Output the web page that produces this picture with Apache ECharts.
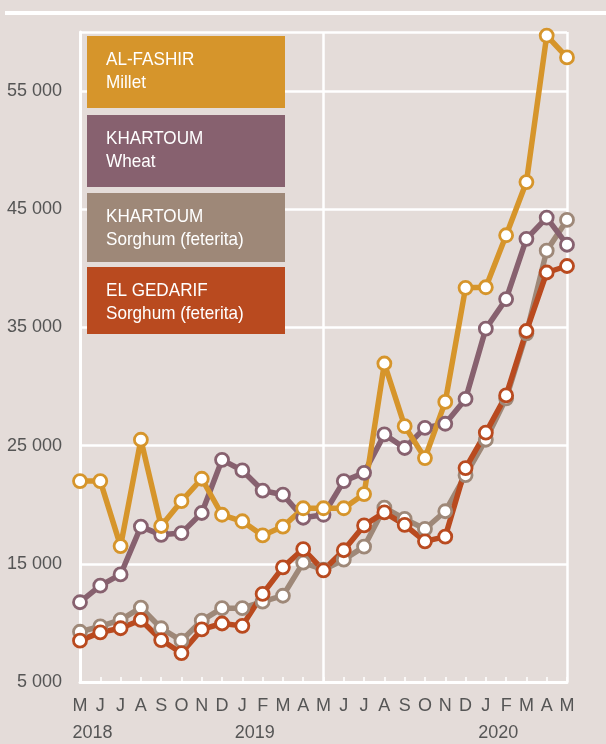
<!DOCTYPE html>
<html>
<head>
<meta charset="utf-8">
<script src="https://cdn.jsdelivr.net/npm/echarts@6/dist/echarts.min.js"></script>
<style>
  html, body { margin: 0; padding: 0; background: #e4dcd9; }
  #chart { width: 606px; height: 744px; }
</style>
</head>
<body>
<div id="chart"></div>
<script>
  // months May 2018 - May 2020
  const months = ['M', 'J', 'J', 'A', 'S', 'O', 'N', 'D', 'J', 'F', 'M', 'A', 'M', 'J', 'J', 'A', 'S', 'O', 'N', 'D', 'J', 'F', 'M', 'A', 'M'];
  const years = {0: '2018', 8: '2019', 20: '2020'};
  const yTicks = [5000, 15000, 25000, 35000, 45000, 55000];

  const milletFashir = [22000, 22000, 16500, 25500, 18200, 20300, 22200, 19150, 18600, 17400, 18150, 19700, 19700, 19700, 20900, 31950, 26650, 23950, 28700, 38350, 38400, 42800, 47300, 59700, 57850];
  const wheatKhartoum = [11750, 13150, 14100, 18150, 17450, 17600, 19300, 23800, 22900, 21200, 20850, 18900, 19150, 22000, 22700, 25950, 24800, 26500, 26850, 28950, 34900, 37400, 42500, 44300, 42000];
  const sorghumKhartoum = [9250, 9700, 10250, 11300, 9550, 8500, 10200, 11250, 11250, 11800, 12300, 15100, 14500, 15350, 16450, 19750, 18800, 17950, 19450, 22500, 25500, 29000, 34500, 41500, 44100];
  const sorghumGedarif = [8500, 9200, 9550, 10250, 8550, 7450, 9450, 9950, 9750, 12450, 14700, 16250, 14450, 16150, 18250, 19350, 18300, 16900, 17300, 23100, 26100, 29250, 34700, 39650, 40200];

  const legendItems = [
    {title: 'AL-FASHIR', sub: 'Millet', color: '#d6952b', y: 36, h: 72},
    {title: 'KHARTOUM', sub: 'Wheat', color: '#87616f', y: 115, h: 72},
    {title: 'KHARTOUM', sub: 'Sorghum (feterita)', color: '#9e8878', y: 193, h: 69},
    {title: 'EL GEDARIF', sub: 'Sorghum (feterita)', color: '#b94a1f', y: 267, h: 67}
  ];

  const font = '"Liberation Sans Narrow", "Liberation Sans", Arial, sans-serif';

  function makeSeries(name, data, color) {
    return {
      name: name,
      type: 'line',
      data: data,
      symbol: 'circle',
      symbolSize: 13,
      showAllSymbol: true,
      lineStyle: {color: color, width: 5.5},
      itemStyle: {color: '#ffffff', borderColor: color, borderWidth: 2.8},
      emphasis: {disabled: true},
      animation: false
    };
  }

  const chart = echarts.init(document.getElementById('chart'));

  // white rule across the top
  const graphics = [{
    type: 'rect',
    shape: {x: 5, y: 11, width: 601, height: 4},
    style: {fill: '#ffffff'},
    z: 10
  }];
  // coloured label boxes
  legendItems.forEach(function (item) {
    graphics.push({
      type: 'rect',
      shape: {x: 87, y: item.y, width: 198, height: item.h},
      style: {fill: item.color},
      z: 100
    });
    graphics.push({
      type: 'text',
      x: 106,
      y: item.y + 12,
      scaleX: 0.9,
      style: {
        text: item.title + '\n' + item.sub,
        fill: '#ffffff',
        font: '19px ' + font,
        lineHeight: 23
      },
      z: 101
    });
  });

  chart.setOption({
    backgroundColor: '#e4dcd9',
    grid: {left: 80, right: 39, top: 32, bottom: 62},
    graphic: graphics,
    xAxis: {
      type: 'category',
      data: months,
      boundaryGap: false,
      axisLine: {show: true, lineStyle: {color: '#ffffff', width: 3}},
      axisTick: {show: true, inside: true, length: 5, lineStyle: {color: '#ffffff', width: 1.5}},
      splitLine: {
        show: true,
        interval: function (index) { return index % 12 === 0; },
        lineStyle: {color: '#ffffff', width: 2.5}
      },
      axisLabel: {
        interval: 0,
        margin: 14,
        formatter: function (value, index) {
          if (years[index]) {
            return '{m|' + value + '}\n{y|' + years[index] + '}';
          }
          return '{m|' + value + '}';
        },
        rich: {
          m: {fontFamily: font, fontSize: 18, color: '#555555', lineHeight: 20},
          y: {fontFamily: font, fontSize: 18, color: '#555555', lineHeight: 34, padding: [0, 0, 0, 25]}
        }
      }
    },
    yAxis: {
      type: 'value',
      min: yTicks[0],
      max: 60000,
      interval: 10000,
      axisLine: {show: true, lineStyle: {color: '#ffffff', width: 3}},
      axisTick: {show: false},
      splitLine: {show: true, lineStyle: {color: '#ffffff', width: 2.5}},
      axisLabel: {
        margin: 18,
        showMaxLabel: false,
        fontFamily: font,
        fontSize: 18,
        color: '#555555',
        formatter: function (v) {
          return String(v).replace(/\B(?=(\d{3})+(?!\d))/g, ' ');
        }
      }
    },
    series: [
      makeSeries('KHARTOUM Sorghum (feterita)', sorghumKhartoum, '#9e8878'),
      makeSeries('EL GEDARIF Sorghum (feterita)', sorghumGedarif, '#b94a1f'),
      makeSeries('KHARTOUM Wheat', wheatKhartoum, '#87616f'),
      makeSeries('AL-FASHIR Millet', milletFashir, '#d6952b')
    ]
  });
</script>
</body>
</html>
